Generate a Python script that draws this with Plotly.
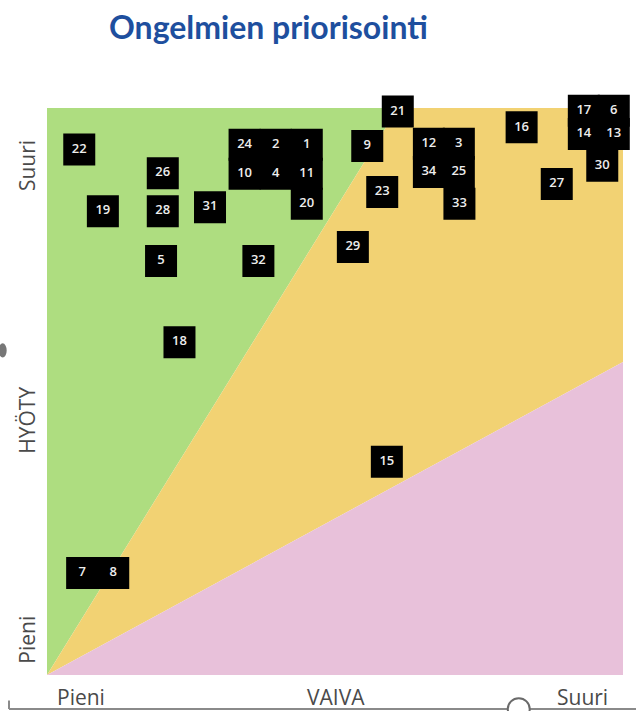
import plotly.graph_objects as go

# Issue numbers with their effort (VAIVA) and benefit (HYÖTY) scores, 0-100
issue_ids = ["22", "26", "19", "28", "31", "24", "2", "1", "10", "4", "11", "20",
             "5", "32", "18", "21", "9", "12", "3", "34", "25", "33", "23", "16",
             "27", "17", "6", "14", "13", "30", "29", "15", "7", "8"]
effort = [5.6, 20.1, 9.7, 20.1, 28.3, 34.3, 39.7, 45.1, 34.3, 39.7, 45.1, 45.1,
          19.8, 36.7, 23.0, 60.9, 55.6, 66.3, 71.5, 66.3, 71.5, 71.6, 58.2, 82.4,
          88.5, 93.2, 98.4, 93.2, 98.4, 96.4, 53.1, 59.0, 6.1, 11.5]
benefit = [92.7, 88.5, 81.8, 81.8, 82.5, 93.5, 93.5, 93.5, 88.4, 88.4, 88.4, 83.1,
           73.0, 73.0, 58.7, 99.4, 93.3, 93.7, 93.7, 88.7, 88.7, 83.1, 85.2, 96.6,
           86.6, 99.5, 99.5, 95.4, 95.4, 89.8, 75.5, 37.6, 18.0, 18.0]

# Zone boundaries: lines from the origin to the top edge and to the right edge
green_top_x = 60.9
pink_right_y = 55.2

zone_green_x = [0, green_top_x, 0]
zone_green_y = [0, 100, 100]
zone_yellow_x = [0, green_top_x, 100, 100]
zone_yellow_y = [0, 100, 100, pink_right_y]
zone_pink_x = [0, 100, 100]
zone_pink_y = [0, pink_right_y, 0]

fig = go.Figure()

for xs, ys, col in [(zone_green_x, zone_green_y, "#AEDD80"),
                    (zone_yellow_x, zone_yellow_y, "#F2D273"),
                    (zone_pink_x, zone_pink_y, "#E8C1DA")]:
    fig.add_trace(go.Scatter(x=xs, y=ys, fill="toself", fillcolor=col,
                             mode="lines", line=dict(width=0, color=col),
                             hoverinfo="skip", showlegend=False))

fig.add_trace(go.Scatter(
    x=effort, y=benefit, mode="markers+text", text=issue_ids,
    textposition="middle center",
    textfont=dict(family="Open Sans", size=13, color="#EDEDED", weight=600),
    marker=dict(symbol="square", size=32, color="#000000", line=dict(width=0)),
    cliponaxis=False, showlegend=False))

label_font = dict(family="Open Sans", size=21, color="#4A4A4A")
annotations = [
    dict(text="Pieni", x=0.059, y=-0.039, font=label_font),
    dict(text="VAIVA", x=0.502, y=-0.039, font=label_font),
    dict(text="Suuri", x=0.930, y=-0.039, font=label_font),
    dict(text="Suuri", x=-0.035, y=0.899, textangle=-90, font=label_font),
    dict(text="HYÖTY", x=-0.035, y=0.450, textangle=-90, font=label_font),
    dict(text="Pieni", x=-0.035, y=0.062, textangle=-90, font=label_font),
    dict(text="<b>Ongelmien priorisointi</b>", x=0.385, y=1.143,
         font=dict(family="Lato", size=32, color="#1E4F9E")),
]
for a in annotations:
    a.update(xref="paper", yref="paper", showarrow=False,
             xanchor="center", yanchor="middle")

fig.update_layout(
    width=636, height=711,
    margin=dict(l=47, r=13, t=108, b=36),
    paper_bgcolor="white", plot_bgcolor="white",
    xaxis=dict(range=[0, 100], visible=False, fixedrange=True),
    yaxis=dict(range=[0, 100], visible=False, fixedrange=True),
    annotations=annotations,
    shapes=[
        # thin frame line along the bottom with a round handle
        dict(type="line", xref="paper", yref="paper", x0=-0.066, x1=1.03,
             y0=-0.06, y1=-0.06, line=dict(color="#8A8A8A", width=2)),
        dict(type="line", xref="paper", yref="paper", x0=-0.066, x1=-0.066,
             y0=-0.06, y1=-0.045, line=dict(color="#8A8A8A", width=2)),
        dict(type="circle", xref="paper", yref="paper", x0=0.80, x1=0.838,
             y0=-0.079, y1=-0.041, fillcolor="white",
             line=dict(color="#6A6A6A", width=2)),
        # small handle at the left edge
        dict(type="circle", xref="paper", yref="paper", x0=-0.084, x1=-0.07,
             y0=0.56, y1=0.585, fillcolor="#777777",
             line=dict(color="#777777", width=0)),
    ],
)

fig.write_html("out.html")
